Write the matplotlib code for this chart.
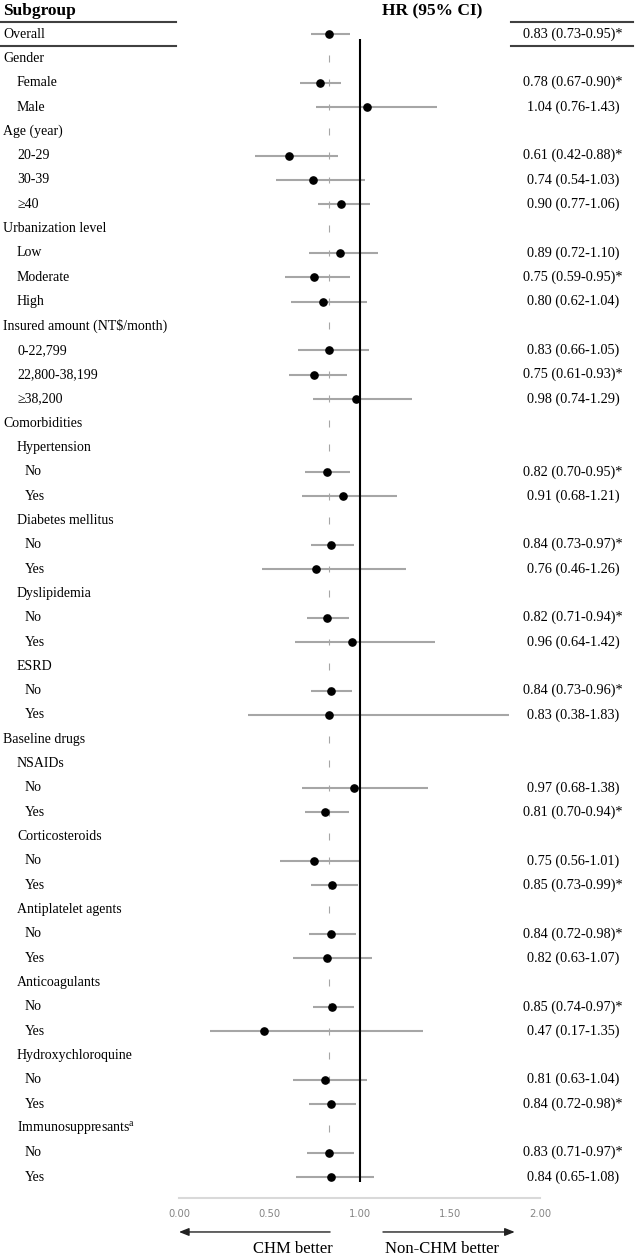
import numpy as np
import matplotlib
matplotlib.use("Agg")
import matplotlib.pyplot as plt
import matplotlib.transforms as mtransforms

plt.rcParams["font.family"] = ["Liberation Serif", "DejaVu Serif"]
plt.rcParams["mathtext.fontset"] = "custom"
plt.rcParams["mathtext.rm"] = "Liberation Serif"

# Data z obrázku
labels = ["Overall", "Gender", "Female", "Male", "Age (year)", "20-29", "30-39", "\u226540",
          "Urbanization level", "Low", "Moderate", "High",
          r"Insured amount (NT\$/month)", "0-22,799", "22,800-38,199", "\u226538,200",
          "Comorbidities", "Hypertension", "No", "Yes", "Diabetes mellitus", "No", "Yes",
          "Dyslipidemia", "No", "Yes", "ESRD", "No", "Yes",
          "Baseline drugs", "NSAIDs", "No", "Yes", "Corticosteroids", "No", "Yes",
          "Antiplatelet agents", "No", "Yes", "Anticoagulants", "No", "Yes",
          "Hydroxychloroquine", "No", "Yes", r"Immunosuppresants$^{\mathrm{a}}$", "No", "Yes"]
levels = [0, 0, 1, 1, 0, 1, 1, 1,
          0, 1, 1, 1,
          0, 1, 1, 1,
          0, 1, 2, 2, 1, 2, 2,
          1, 2, 2, 1, 2, 2,
          0, 1, 2, 2, 1, 2, 2,
          1, 2, 2, 1, 2, 2,
          1, 2, 2, 1, 2, 2]
nan = np.nan
hr = [0.83, nan, 0.78, 1.04, nan, 0.61, 0.74, 0.90,
      nan, 0.89, 0.75, 0.80,
      nan, 0.83, 0.75, 0.98,
      nan, nan, 0.82, 0.91, nan, 0.84, 0.76,
      nan, 0.82, 0.96, nan, 0.84, 0.83,
      nan, nan, 0.97, 0.81, nan, 0.75, 0.85,
      nan, 0.84, 0.82, nan, 0.85, 0.47,
      nan, 0.81, 0.84, nan, 0.83, 0.84]
ci_low = [0.73, nan, 0.67, 0.76, nan, 0.42, 0.54, 0.77,
          nan, 0.72, 0.59, 0.62,
          nan, 0.66, 0.61, 0.74,
          nan, nan, 0.70, 0.68, nan, 0.73, 0.46,
          nan, 0.71, 0.64, nan, 0.73, 0.38,
          nan, nan, 0.68, 0.70, nan, 0.56, 0.73,
          nan, 0.72, 0.63, nan, 0.74, 0.17,
          nan, 0.63, 0.72, nan, 0.71, 0.65]
ci_high = [0.95, nan, 0.90, 1.43, nan, 0.88, 1.03, 1.06,
           nan, 1.10, 0.95, 1.04,
           nan, 1.05, 0.93, 1.29,
           nan, nan, 0.95, 1.21, nan, 0.97, 1.26,
           nan, 0.94, 1.42, nan, 0.96, 1.83,
           nan, nan, 1.38, 0.94, nan, 1.01, 0.99,
           nan, 0.98, 1.07, nan, 0.97, 1.35,
           nan, 1.04, 0.98, nan, 0.97, 1.08]
xticks = [0.0, 0.5, 1.0, 1.5, 2.0]

hr = np.array(hr)
ci_low = np.array(ci_low)
ci_high = np.array(ci_high)
rows = np.arange(len(labels))
has_ci = ~np.isnan(hr)

fig = plt.figure(figsize=(6.37, 12.58), dpi=100)
ax = fig.add_axes([179 / 637, 0, 361 / 637, 1])
ax.set_xlim(0, 2)
ax.set_ylim(50.33, -1.4)

# tečkovaná čára v celkovém HR a plná čára v 1
ref_x = np.full(len(rows) - 1, hr[0])
ax.vlines(ref_x, rows[1:] - 0.14, rows[1:] + 0.14, color="#a6a6a6", lw=0.8, zorder=1)
ax.vlines(1.0, 0.2, 47.2, color="black", lw=1.5, zorder=3)

ax.hlines(rows[has_ci], ci_low[has_ci], ci_high[has_ci], color="#a6a6a6", lw=1.5, zorder=2)
ax.plot(hr[has_ci], rows[has_ci], "o", color="black", ms=5.2, zorder=4)

# osa
for s in ["top", "left", "right"]:
    ax.spines[s].set_visible(False)
ax.spines["bottom"].set_position(("data", 47.86))
ax.spines["bottom"].set_color("#d9d9d9")
ax.spines["bottom"].set_linewidth(1.5)
ax.set_yticks([])
ax.set_xticks(xticks)
ax.set_xticklabels([f"{t:.2f}" for t in xticks], family="DejaVu Sans", fontsize=7.2, color="#858585")
ax.tick_params(axis="x", length=0, pad=8)

trans = mtransforms.blended_transform_factory(fig.transFigure, ax.transData)
indent = [3 / 637, 17 / 637, 25 / 637]

for i, lab in enumerate(labels):
    ax.text(indent[levels[i]], i, lab, transform=trans, fontsize=10, va="center", ha="left")
    if has_ci[i]:
        txt = f"{hr[i]:.2f} ({ci_low[i]:.2f}-{ci_high[i]:.2f})"
        if ci_high[i] < 1:
            txt += "*"
        ax.text(573 / 637, i, txt, transform=trans, fontsize=10.3, va="center", ha="center")

ax.text(3 / 637, -0.95, "Subgroup", transform=trans, fontsize=12.5, fontweight="bold", va="center")
ax.text(432 / 637, -0.95, "HR (95% CI)", transform=trans, fontsize=12.5, fontweight="bold",
        va="center", ha="center")

for y in [-0.5, 0.5]:
    ax.plot([0, 176 / 637], [y, y], transform=trans, color="#404040", lw=1.5, clip_on=False)
    ax.plot([511 / 637, 633 / 637], [y, y], transform=trans, color="#404040", lw=1.5, clip_on=False)

# šipky
arrow = dict(arrowstyle="-|>,head_length=0.45,head_width=0.18", color="#222222", lw=1.0,
             mutation_scale=13, shrinkA=0, shrinkB=0)
ax.annotate("", xy=(0.0, 49.26), xytext=(0.837, 49.26), arrowprops=arrow, annotation_clip=False)
ax.annotate("", xy=(1.86, 49.26), xytext=(1.13, 49.26), arrowprops=arrow, annotation_clip=False)
ax.text(0.853, 49.96, "CHM better", fontsize=12, ha="right", va="center")
ax.text(1.141, 49.96, "Non-CHM better", fontsize=12, ha="left", va="center")

fig.savefig("out.png", dpi=100)
